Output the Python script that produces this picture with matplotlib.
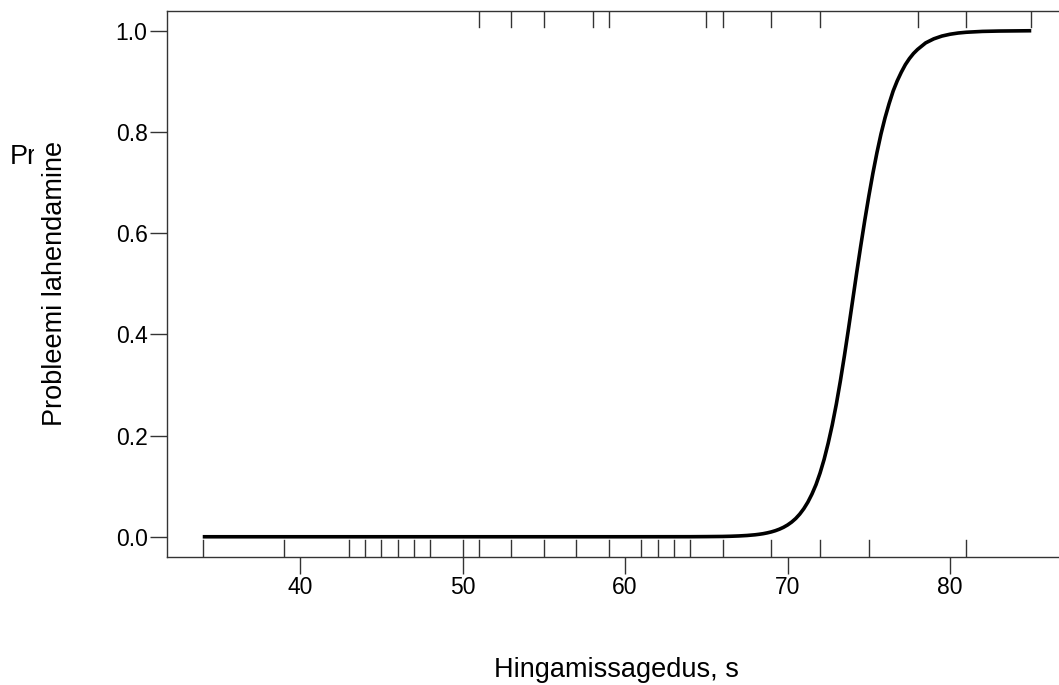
import matplotlib
matplotlib.use("Agg")
import matplotlib.pyplot as plt
from matplotlib.transforms import Bbox, TransformedBbox

# Fitted curve values
curve_x = [34, 40, 50, 55, 60, 64, 65, 66, 66.5, 67, 67.5, 68, 68.25, 68.5,
           68.75, 69, 69.25, 69.5, 69.75, 70, 70.25, 70.5, 70.75, 71, 71.25,
           71.5, 71.75, 72, 72.25, 72.5, 72.75, 73, 73.25, 73.5, 73.75, 74,
           74.25, 74.5, 74.75, 75, 75.25, 75.5, 75.75, 76, 76.25, 76.5, 76.75,
           77, 77.25, 77.5, 77.75, 78, 78.5, 79, 79.5, 80, 80.5, 81, 82, 83,
           85]
curve_p = [0.0, 0.0, 0.0, 0.0, 0.0, 0.0001, 0.0003, 0.0006, 0.001, 0.0016,
           0.0025, 0.0039, 0.0049, 0.0061, 0.0077, 0.0096, 0.012, 0.015,
           0.0187, 0.0233, 0.029, 0.036, 0.0448, 0.0555, 0.0685, 0.0843,
           0.103, 0.126, 0.153, 0.185, 0.221, 0.262, 0.308, 0.358, 0.411,
           0.466, 0.521, 0.574, 0.625, 0.673, 0.718, 0.759, 0.796, 0.828,
           0.856, 0.881, 0.901, 0.918, 0.933, 0.945, 0.955, 0.963, 0.976,
           0.984, 0.9895, 0.9931, 0.9955, 0.997, 0.9987, 0.9994, 1.0]

# Rug: observed x values (outcome 0 at bottom, outcome 1 at top)
rug_bottom = [34, 39, 43, 44, 45, 46, 47, 48, 50, 51, 53, 55, 57, 59, 61, 62,
              63, 64, 66, 69, 72, 75, 81]
rug_top = [51, 53, 55, 58, 59, 65, 66, 69, 72, 78, 81, 85]

x_ticks = [40, 50, 60, 70, 80]
y_ticks = [0.0, 0.2, 0.4, 0.6, 0.8, 1.0]
y_ticklabels = ["0.0", "0.2", "0.4", "0.6", "0.8", "1.0"]

plt.rcParams['font.family'] = ['Liberation Sans', 'DejaVu Sans']

W, H = 1059, 685
fig = plt.figure(figsize=(W / 100, H / 100), dpi=100)
left_px, right_px, top_px, bottom_px = 167, 1067, 10.5, 557
ax = fig.add_axes([left_px / W, 1 - bottom_px / H,
                   (right_px - left_px) / W, (bottom_px - top_px) / H])
ax.set_xlim(31.8, 87.2)
ax.set_ylim(-0.04, 1.04)

frame_col = '#333333'
for s in ['left', 'bottom', 'top']:
    ax.spines[s].set_color(frame_col)
    ax.spines[s].set_linewidth(1.0)
ax.spines['right'].set_visible(False)

ax.plot(curve_x, curve_p, color='black', lw=2.6, solid_capstyle='butt',
        solid_joinstyle='round')

for v in rug_bottom:
    ax.axvline(v, ymin=0, ymax=0.031, color=frame_col, lw=1.0)
for v in rug_top:
    ax.axvline(v, ymin=0.969, ymax=1.0, color=frame_col, lw=1.0)

ax.set_xticks(x_ticks)
ax.set_xticklabels([str(t) for t in x_ticks])
ax.set_yticks(y_ticks)
ax.set_yticklabels(y_ticklabels)
ax.tick_params(axis='both', direction='out', length=12, width=1.0,
               color=frame_col, labelsize=16.5, pad=2)

fig.text(616.7 / W, 1 - 670 / H, "Hingamissagedus, s", ha='center',
         va='center', fontsize=19.5)
fig.text(55 / W, 1 - 283 / H, "Probleemi lahendamine", ha='center',
         va='center', rotation=90, fontsize=19.5)

t = fig.text(10 / W, 1 - 163.5 / H, "Pr", ha='left',
             va='baseline', fontsize=19.5)
t.set_clip_box(TransformedBbox(Bbox([[0, 0], [34 / W, 1]]), fig.transFigure))
t.set_clip_on(True)

fig.savefig("out.png", dpi=100)
